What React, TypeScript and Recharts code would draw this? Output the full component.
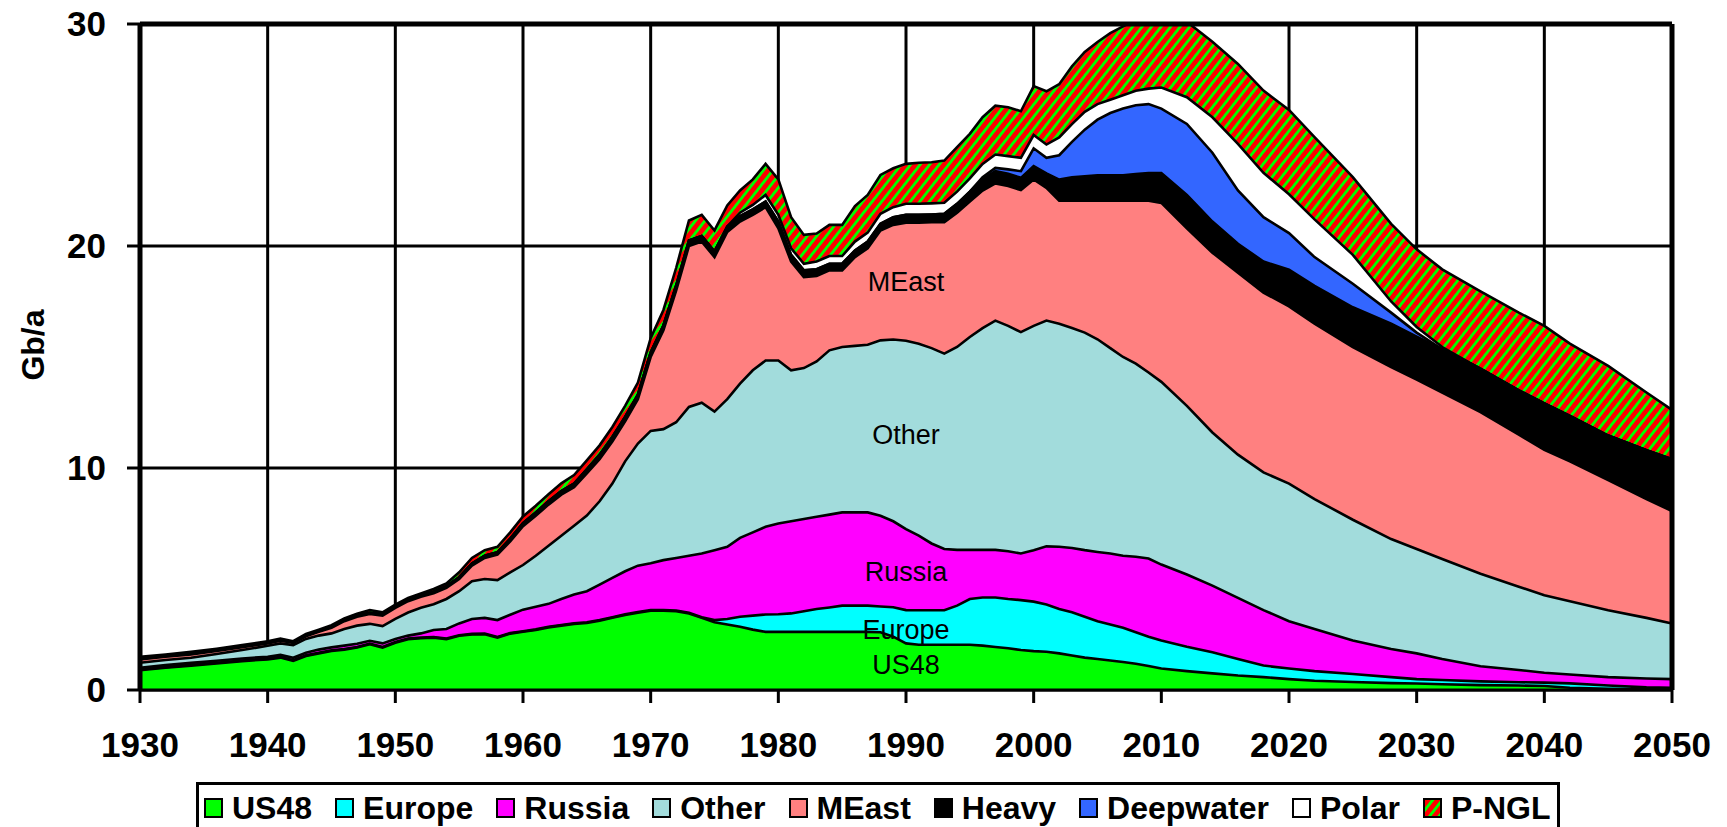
import {
  AreaChart,
  Area,
  XAxis,
  YAxis,
  CartesianGrid,
  ReferenceLine,
  ReferenceDot,
  Label,
} from 'recharts';

const FONT = '"Liberation Sans", Arial, sans-serif';

const years = [
  1930, 1932, 1934, 1936, 1938,
  1940, 1941, 1942, 1943, 1944, 1945, 1946, 1947, 1948, 1949,
  1950, 1951, 1952, 1953, 1954, 1955, 1956, 1957, 1958, 1959,
  1960, 1961, 1962, 1963, 1964, 1965, 1966, 1967, 1968, 1969,
  1970, 1971, 1972, 1973, 1974, 1975, 1976, 1977, 1978, 1979,
  1980, 1981, 1982, 1983, 1984, 1985, 1986, 1987, 1988, 1989,
  1990, 1991, 1992, 1993, 1994, 1995, 1996, 1997, 1998, 1999,
  2000, 2001, 2002, 2003, 2004, 2005, 2006, 2007, 2008, 2009,
  2010, 2012, 2014, 2016, 2018, 2020, 2022, 2025, 2028, 2030,
  2032, 2035, 2038, 2040, 2042, 2045, 2048, 2050,
];

// Gb/a per region, one value per year above
const us48 = [
  0.89, 1.0, 1.1, 1.2, 1.3,
  1.38, 1.46, 1.31, 1.53, 1.65, 1.76, 1.82, 1.91, 2.06, 1.91,
  2.13, 2.29, 2.33, 2.36, 2.29, 2.44, 2.5, 2.51, 2.36, 2.54,
  2.62, 2.7, 2.82, 2.9, 2.98, 3.02, 3.12, 3.25, 3.38, 3.48,
  3.57, 3.57, 3.55, 3.45, 3.25, 3.05, 2.95, 2.85, 2.72, 2.62,
  2.62, 2.62, 2.62, 2.62, 2.62, 2.62, 2.62, 2.62, 2.6, 2.4,
  2.1, 2.04, 2.04, 2.04, 2.04, 2.04, 2.0, 1.94, 1.88, 1.8,
  1.75, 1.72, 1.65, 1.55, 1.46, 1.4, 1.33, 1.26, 1.18, 1.08,
  0.97, 0.85, 0.75, 0.65, 0.58, 0.49, 0.42, 0.36, 0.31, 0.29,
  0.26, 0.22, 0.2, 0.18, 0.1, 0.05, 0.03, 0.02,
];

const europe = [
  0.03, 0.03, 0.03, 0.03, 0.03,
  0.03, 0.03, 0.03, 0.03, 0.03, 0.03, 0.03, 0.03, 0.03, 0.03,
  0.03, 0.03, 0.03, 0.03, 0.03, 0.03, 0.03, 0.03, 0.03, 0.03,
  0.03, 0.03, 0.03, 0.03, 0.03, 0.03, 0.03, 0.03, 0.03, 0.03,
  0.03, 0.03, 0.03, 0.03, 0.03, 0.1, 0.25, 0.45, 0.63, 0.78,
  0.79, 0.83, 0.93, 1.03, 1.1, 1.18, 1.18, 1.18, 1.16, 1.33,
  1.5, 1.55, 1.55, 1.55, 1.76, 2.06, 2.17, 2.23, 2.22, 2.25,
  2.23, 2.13, 2.0, 1.95, 1.84, 1.7, 1.62, 1.54, 1.42, 1.32,
  1.26, 1.1, 0.95, 0.75, 0.52, 0.48, 0.43, 0.36, 0.27, 0.2,
  0.19, 0.17, 0.15, 0.15, 0.2, 0.15, 0.09, 0.08,
];

const russia = [
  0.08, 0.09, 0.09, 0.09, 0.09,
  0.09, 0.09, 0.11, 0.12, 0.14, 0.13, 0.15, 0.14, 0.13, 0.16,
  0.14, 0.13, 0.19, 0.31, 0.43, 0.53, 0.67, 0.71, 0.76, 0.82,
  0.97, 1.02, 1.03, 1.17, 1.29, 1.4, 1.6, 1.77, 1.94, 2.09,
  2.11, 2.25, 2.37, 2.57, 2.87, 3.15, 3.25, 3.55, 3.75, 3.95,
  4.09, 4.15, 4.15, 4.15, 4.18, 4.2, 4.2, 4.2, 4.09, 3.87,
  3.65, 3.36, 3.01, 2.76, 2.51, 2.21, 2.14, 2.14, 2.15, 2.1,
  2.32, 2.62, 2.8, 2.9, 3.0, 3.12, 3.2, 3.25, 3.4, 3.52,
  3.42, 3.25, 3.0, 2.75, 2.5, 2.13, 1.9, 1.51, 1.27, 1.16,
  0.95, 0.68, 0.55, 0.45, 0.4, 0.38, 0.4, 0.39,
];

const other = [
  0.23, 0.23, 0.23, 0.3, 0.38,
  0.49, 0.52, 0.57, 0.62, 0.63, 0.63, 0.75, 0.82, 0.76, 0.78,
  0.9, 1.04, 1.15, 1.16, 1.35, 1.45, 1.7, 1.75, 1.8, 1.91,
  2.01, 2.3, 2.62, 2.85, 3.1, 3.41, 3.75, 4.25, 4.95, 5.5,
  5.96, 5.9, 6.11, 6.7, 6.79, 6.24, 6.65, 6.95, 7.3, 7.49,
  7.34, 6.8, 6.8, 7.0, 7.4, 7.45, 7.5, 7.55, 7.9, 8.19,
  8.48, 8.65, 8.8, 8.8, 9.14, 9.59, 9.99, 10.33, 10.15, 9.97,
  10.1, 10.17, 10.05, 9.91, 9.8, 9.58, 9.25, 8.95, 8.7, 8.38,
  8.23, 7.6, 6.9, 6.45, 6.2, 6.2, 5.85, 5.44, 4.95, 4.7,
  4.5, 4.17, 3.75, 3.49, 3.3, 3.01, 2.73, 2.51,
];

const meast = [
  0.15, 0.15, 0.15, 0.14, 0.13,
  0.11, 0.12, 0.1, 0.12, 0.17, 0.25, 0.35, 0.4, 0.44, 0.47,
  0.5, 0.51, 0.5, 0.5, 0.5, 0.55, 0.7, 0.95, 1.15, 1.4,
  1.75, 1.8, 1.85, 1.85, 1.73, 1.9, 1.9, 1.89, 1.8, 2.0,
  3.33, 4.45, 5.94, 7.25, 7.26, 6.96, 7.53, 7.3, 7.0, 6.91,
  5.96, 4.9, 4.1, 3.85, 3.6, 3.45, 4.0, 4.35, 4.95, 5.16,
  5.32, 5.45, 5.67, 5.92, 6.05, 6.1, 6.2, 6.18, 6.3, 6.4,
  6.6, 5.98, 5.54, 5.73, 5.94, 6.24, 6.64, 7.04, 7.34, 7.74,
  8.06, 8.0, 8.1, 8.2, 8.1, 7.98, 7.9, 7.77, 7.75, 7.63,
  7.5, 7.28, 6.85, 6.55, 6.3, 5.87, 5.35, 5.06,
];

const heavy = [
  0.04, 0.04, 0.04, 0.04, 0.04,
  0.04, 0.04, 0.04, 0.04, 0.04, 0.05, 0.05, 0.06, 0.06, 0.06,
  0.06, 0.07, 0.07, 0.07, 0.08, 0.08, 0.1, 0.1, 0.1, 0.12,
  0.14, 0.15, 0.15, 0.16, 0.17, 0.18, 0.2, 0.21, 0.2, 0.2,
  0.2, 0.22, 0.22, 0.25, 0.25, 0.25, 0.25, 0.25, 0.25, 0.25,
  0.3, 0.3, 0.3, 0.3, 0.3, 0.3, 0.3, 0.3, 0.3, 0.35,
  0.35, 0.35, 0.35, 0.38, 0.4, 0.45, 0.5, 0.55, 0.55, 0.55,
  0.6, 0.65, 0.95, 1.05, 1.1, 1.15, 1.15, 1.15, 1.2, 1.25,
  1.35, 1.5, 1.4, 1.3, 1.4, 1.65, 1.7, 1.8, 1.95, 1.94,
  1.95, 1.95, 2.0, 2.09, 2.05, 2.0, 2.2, 2.33,
];

const deepwater = [
  0, 0, 0, 0, 0,
  0, 0, 0, 0, 0, 0, 0, 0, 0, 0,
  0, 0, 0, 0, 0, 0, 0, 0, 0, 0,
  0, 0, 0, 0, 0, 0, 0, 0, 0, 0,
  0, 0, 0, 0, 0, 0, 0, 0, 0, 0,
  0, 0, 0, 0, 0, 0, 0, 0, 0, 0,
  0, 0, 0, 0, 0, 0, 0.1, 0.15, 0.2, 0.3,
  0.8, 0.7, 1.1, 1.6, 2.1, 2.5, 2.8, 3.0, 3.1, 3.1,
  2.9, 3.2, 3.1, 2.4, 2.0, 1.65, 1.3, 1.06, 0.5, 0.18,
  0, 0, 0, 0, 0, 0, 0, 0,
];

const polar = [
  0, 0, 0, 0, 0,
  0, 0, 0, 0, 0, 0, 0, 0, 0, 0,
  0, 0, 0, 0, 0, 0, 0, 0, 0, 0,
  0, 0, 0, 0, 0, 0, 0, 0, 0, 0,
  0, 0, 0, 0, 0, 0, 0, 0.15, 0.2, 0.3,
  0.3, 0.3, 0.3, 0.35, 0.35, 0.35, 0.4, 0.4, 0.45, 0.45,
  0.5, 0.5, 0.5, 0.5, 0.55, 0.6, 0.6, 0.6, 0.6, 0.6,
  0.6, 0.6, 0.8, 0.8, 0.8, 0.7, 0.6, 0.6, 0.65, 0.7,
  0.95, 1.2, 1.6, 2.1, 2.0, 1.75, 1.7, 1.3, 0.5, 0.25,
  0.1, 0, 0, 0, 0, 0, 0, 0,
];

const pngl = [
  0.08, 0.06, 0.08, 0.06, 0.05,
  0.06, 0.06, 0.04, 0.06, 0.06, 0.07, 0.07, 0.08, 0.12, 0.09,
  0.09, 0.08, 0.08, 0.12, 0.12, 0.22, 0.25, 0.25, 0.25, 0.28,
  0.3, 0.3, 0.32, 0.35, 0.38, 0.4, 0.42, 0.45, 0.5, 0.55,
  0.65, 0.7, 0.8, 0.9, 0.95, 0.95, 0.95, 1.0, 1.15, 1.4,
  1.6, 1.4, 1.3, 1.26, 1.4, 1.4, 1.6, 1.7, 1.75, 1.75,
  1.8, 1.85, 1.85, 1.9, 2.0, 2.0, 2.1, 2.2, 2.2, 2.1,
  2.2, 2.4, 2.4, 2.6, 2.7, 2.8, 3.0, 3.1, 3.2, 3.2,
  3.1, 3.4, 3.4, 3.6, 3.7, 3.8, 3.7, 3.5, 3.5, 3.5,
  3.5, 3.49, 3.5, 3.49, 3.25, 3.14, 2.6, 2.23,
];

const xTicks = [1930, 1940, 1950, 1960, 1970, 1980, 1990, 2000, 2010, 2020, 2030, 2040, 2050];
const yTicks = [0, 10, 20, 30];

const series = [
  { key: 'us48', name: 'US48', color: '#00ff00', values: us48 },
  { key: 'europe', name: 'Europe', color: '#00ffff', values: europe },
  { key: 'russia', name: 'Russia', color: '#ff00ff', values: russia },
  { key: 'other', name: 'Other', color: '#a2dcdc', values: other },
  { key: 'meast', name: 'MEast', color: '#ff8080', values: meast },
  { key: 'heavy', name: 'Heavy', color: '#000000', values: heavy },
  { key: 'deepwater', name: 'Deepwater', color: '#3366ff', values: deepwater },
  { key: 'polar', name: 'Polar', color: '#ffffff', values: polar },
  { key: 'pngl', name: 'P-NGL', color: 'url(#pnglStripes)', values: pngl },
];

// in-chart region labels (year, Gb/a)
const regionLabels = [
  { text: 'US48', x: 1990, y: 1.13 },
  { text: 'Europe', x: 1990, y: 2.75 },
  { text: 'Russia', x: 1990, y: 5.36 },
  { text: 'Other', x: 1990, y: 11.5 },
  { text: 'MEast', x: 1990, y: 18.42 },
];

const chartData = years.map((year, i) => {
  const row: Record<string, number> = { year };
  series.forEach((s) => {
    row[s.key] = s.values[i];
  });
  return row;
});

function StripePattern({ id }: { id: string }) {
  return (
    <pattern id={id} width="7.5" height="7.5" patternUnits="userSpaceOnUse" patternTransform="rotate(38)">
      <rect width="7.5" height="7.5" fill="#ff0000" shapeRendering="crispEdges" />
      <rect width="3" height="7.5" fill="#00ff00" shapeRendering="crispEdges" />
    </pattern>
  );
}

function StripeSwatch() {
  return (
    <svg width={19} height={20} style={{ display: 'block' }}>
      <defs>
        <StripePattern id="pnglSwatch" />
      </defs>
      <rect x={1} y={1} width={17} height={18} fill="url(#pnglSwatch)" stroke="#000" strokeWidth={2} />
    </svg>
  );
}

function LegendBox() {
  return (
    <div
      style={{
        position: 'absolute',
        left: 196,
        top: 782,
        width: 1364,
        height: 56,
        boxSizing: 'border-box',
        border: '3px solid #000',
        background: '#fff',
        display: 'flex',
        alignItems: 'center',
        paddingLeft: 5,
        paddingBottom: 5,
        fontFamily: FONT,
        fontWeight: 700,
        fontSize: 32,
        color: '#000',
        whiteSpace: 'nowrap',
      }}
    >
      {series.map((s) => (
        <div key={s.key} style={{ display: 'flex', alignItems: 'center', marginRight: 23 }}>
          <div style={{ marginRight: 9 }}>
            {s.key === 'pngl' ? (
              <StripeSwatch />
            ) : (
              <div style={{ width: 19, height: 20, boxSizing: 'border-box', border: '2px solid #000', background: s.color }} />
            )}
          </div>
          <span style={{ lineHeight: '32px' }}>{s.name}</span>
        </div>
      ))}
    </div>
  );
}

function AxisTitle() {
  const cx = 33;
  const cy = 345;
  return (
    <text
      x={cx}
      y={cy}
      transform={`rotate(-90 ${cx} ${cy})`}
      textAnchor="middle"
      dominantBaseline="central"
      fontSize={32}
      fontWeight={700}
      fill="#000"
      fontFamily={FONT}
    >
      Gb/a
    </text>
  );
}

const tickStyle = { fontSize: 35, fontWeight: 700, fill: '#000', fontFamily: FONT };

export default function App() {
  return (
    <div style={{ position: 'absolute', left: 0, top: 0, width: 1727, height: 827, overflow: 'hidden', background: '#fff', fontFamily: FONT }}>
      <AreaChart width={1727} height={827} data={chartData} margin={{ top: 24, right: 55, bottom: 57, left: 20 }}>
        <defs>
          <StripePattern id="pnglStripes" />
        </defs>
        <CartesianGrid stroke="#000" strokeWidth={3} />
        {series.map((s) => (
          <Area
            key={s.key}
            type="linear"
            dataKey={s.key}
            name={s.name}
            stackId="oil"
            stroke="none"
            fill={s.color}
            fillOpacity={1}
            dot={false}
            activeDot={false}
            isAnimationActive={false}
          />
        ))}
        {/* black outlines of every band, drawn on top of all fills */}
        {series.map((s) => (
          <Area
            key={`${s.key}-edge`}
            type="linear"
            dataKey={s.key}
            stackId="edges"
            stroke="#000"
            strokeWidth={2.6}
            fill="none"
            dot={false}
            activeDot={false}
            legendType="none"
            isAnimationActive={false}
          />
        ))}
        {regionLabels.map((l) => (
          <ReferenceDot
            key={l.text}
            x={l.x}
            y={l.y}
            r={1}
            fill="none"
            stroke="none"
            label={{ value: l.text, position: 'center', fontSize: 27, fill: '#000', fontFamily: FONT }}
          />
        ))}
        <ReferenceLine y={30} stroke="#000" strokeWidth={5} />
        <ReferenceLine x={2050} stroke="#000" strokeWidth={5} />
        <XAxis
          dataKey="year"
          type="number"
          domain={[1930, 2050]}
          ticks={xTicks}
          height={80}
          tick={tickStyle}
          tickSize={13}
          tickMargin={29}
          tickLine={{ stroke: '#000', strokeWidth: 3 }}
          axisLine={{ stroke: '#000', strokeWidth: 3 }}
          interval={0}
        />
        <YAxis
          type="number"
          domain={[0, 30]}
          allowDataOverflow
          ticks={yTicks}
          width={120}
          tick={tickStyle}
          tickSize={13}
          tickMargin={21}
          tickLine={{ stroke: '#000', strokeWidth: 3 }}
          axisLine={{ stroke: '#000', strokeWidth: 5 }}
          interval={0}
        >
          <Label content={AxisTitle} />
        </YAxis>
      </AreaChart>
      <LegendBox />
    </div>
  );
}
